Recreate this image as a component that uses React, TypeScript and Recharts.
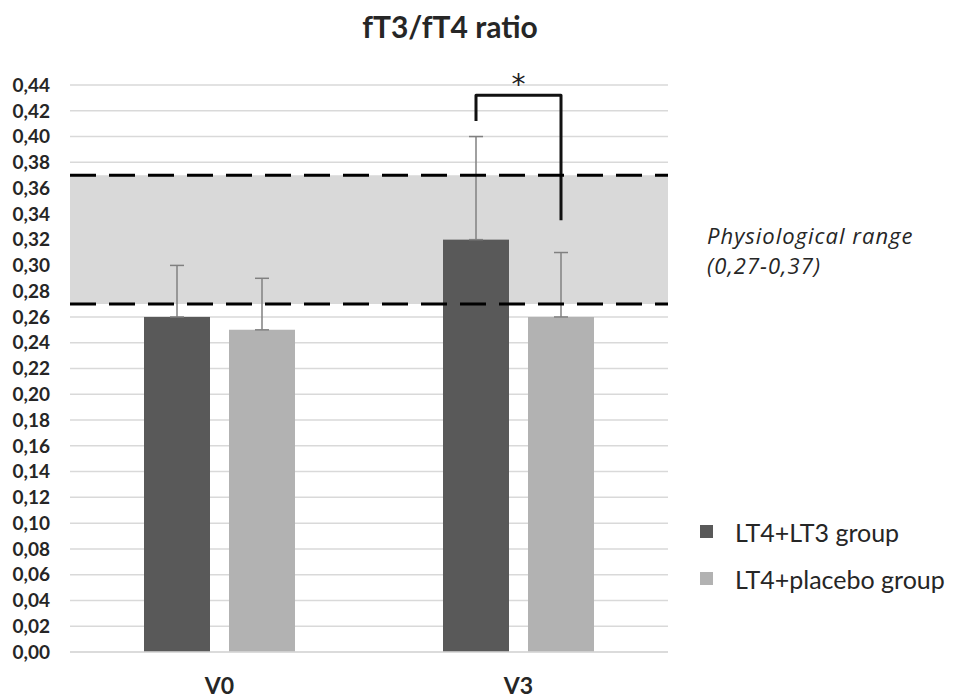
import {
  BarChart,
  Bar,
  XAxis,
  YAxis,
  CartesianGrid,
  ReferenceArea,
  ReferenceLine,
  ErrorBar,
} from "recharts";

const categories = ["V0", "V3"];
const lt3Values = [0.26, 0.32];
const placeboValues = [0.25, 0.26];
const lt3Errors = [0.04, 0.08];
const placeboErrors = [0.04, 0.05];

const yTicks = [
  0, 0.02, 0.04, 0.06, 0.08, 0.1, 0.12, 0.14, 0.16, 0.18, 0.2, 0.22, 0.24,
  0.26, 0.28, 0.3, 0.32, 0.34, 0.36, 0.38, 0.4, 0.42, 0.44,
];

const rangeLow = 0.27;
const rangeHigh = 0.37;

// significance bracket between the two bars of one category
const sigCategory = "V3";
const sigTop = 0.432;
const sigLeftEnd = 0.412;
const sigRightEnd = 0.335;

const seriesNames = ["LT4+LT3 group", "LT4+placebo group"];

const DARK = "#595959";
const LIGHT = "#b2b2b2";
const BAND = "#d9d9d9";
const BAR_GAP = 19;
const FONT = "Lato, 'DejaVu Sans', sans-serif";

const data = categories.map((name, i) => ({
  name,
  lt3: lt3Values[i],
  placebo: placeboValues[i],
  lt3Err: [0, lt3Errors[i]],
  placeboErr: [0, placeboErrors[i]],
}));

const fmt = (v: number) => v.toFixed(2).replace(".", ",");

function Lt3Shape(props: any) {
  const { x, y, width, height, fill, payload } = props;

  const rect = <rect x={x} y={y} width={width} height={height} fill={fill} />;

  if (payload.name !== sigCategory || !height) return rect;

  const base = y + height;
  const perUnit = height / payload.lt3;
  const yOf = (v: number) => base - v * perUnit;

  const leftX = x + width / 2;
  const rightX = x + width + BAR_GAP + width / 2;

  return (
    <g>
      {rect}
      <path
        d={`M${leftX},${yOf(sigLeftEnd)} L${leftX},${yOf(sigTop)} L${rightX},${yOf(sigTop)} L${rightX},${yOf(sigRightEnd)}`}
        fill="none"
        stroke="#111"
        strokeWidth={3}
        strokeLinejoin="round"
      />
      <text
        x={(leftX + rightX) / 2}
        y={yOf(sigTop) - 1}
        textAnchor="middle"
        fontSize={28}
        fontFamily="'DejaVu Sans', sans-serif"
        fill="#222"
      >
        *
      </text>
    </g>
  );
}

function RangeLabel(props: any) {
  const { viewBox } = props;
  if (!viewBox) return null;
  const tx = viewBox.x + viewBox.width + 39;
  const cy = viewBox.y + viewBox.height / 2;
  const style = {
    fontSize: 22,
    fontStyle: "italic",
    letterSpacing: 1,
    fontFamily: "'Open Sans', sans-serif",
    fill: "#262626",
  };
  return (
    <g>
      <text x={tx} y={cy + 4} style={style}>
        Physiological range
      </text>
      <text x={tx} y={cy + 34} style={style}>
        ({fmt(rangeLow)}-{fmt(rangeHigh)})
      </text>
    </g>
  );
}

function LegendBox() {
  const colors = [DARK, LIGHT];
  return (
    <div
      style={{
        position: "absolute",
        left: 700,
        top: 508,
        fontFamily: FONT,
        fontSize: 25,
        color: "#262626",
      }}
    >
      {seriesNames.map((n, i) => (
        <div
          key={n}
          style={{ display: "flex", alignItems: "center", height: 47 }}
        >
          <span
            style={{
              display: "inline-block",
              width: 13,
              height: 13,
              background: colors[i],
              marginRight: 22,
            }}
          />
          {n}
        </div>
      ))}
    </div>
  );
}

export default function App() {
  return (
    <div
      style={{
        position: "absolute",
        left: 0,
        top: 0,
        width: 954,
        height: 700,
        background: "#fff",
        fontFamily: FONT,
      }}
    >
      <div
        style={{
          position: "absolute",
          left: 300,
          width: 300,
          top: 8,
          textAlign: "center",
          fontSize: 30,
          fontWeight: 700,
          color: "#262626",
        }}
      >
        fT3/fT4 ratio
      </div>

      <BarChart
        width={954}
        height={700}
        data={data}
        margin={{ top: 85, right: 286, bottom: 18, left: 0 }}
        barCategoryGap={74}
        barGap={BAR_GAP}
      >
        <CartesianGrid vertical={false} stroke="#d9d9d9" strokeWidth={1.5} />

        <ReferenceArea
          y1={rangeLow}
          y2={rangeHigh}
          fill={BAND}
          fillOpacity={1}
          stroke="none"
          label={<RangeLabel />}
        />

        <XAxis
          dataKey="name"
          tickLine={false}
          axisLine={{ stroke: "#d9d9d9", strokeWidth: 1.5 }}
          tickMargin={20}
          tick={{ fontSize: 23, fontWeight: 700, fill: "#262626", fontFamily: FONT }}
        />

        <YAxis
          width={70}
          domain={[0, 0.44]}
          ticks={yTicks}
          interval={0}
          axisLine={false}
          tickLine={false}
          tickMargin={14}
          tickFormatter={fmt}
          tick={{ fontSize: 19, fontWeight: 700, fill: "#262626", fontFamily: FONT }}
        />

        <Bar
          dataKey="lt3"
          name={seriesNames[0]}
          fill={DARK}
          isAnimationActive={false}
          shape={<Lt3Shape />}
        >
          <ErrorBar dataKey="lt3Err" width={7} stroke="#808080" strokeWidth={1.5} />
        </Bar>

        <Bar
          dataKey="placebo"
          name={seriesNames[1]}
          fill={LIGHT}
          isAnimationActive={false}
        >
          <ErrorBar dataKey="placeboErr" width={7} stroke="#808080" strokeWidth={1.5} />
        </Bar>

        <ReferenceLine
          y={rangeHigh}
          stroke="#000"
          strokeWidth={3}
          strokeDasharray="26 13"
        />
        <ReferenceLine
          y={rangeLow}
          stroke="#000"
          strokeWidth={3}
          strokeDasharray="26 13"
        />
      </BarChart>

      <LegendBox />
    </div>
  );
}
